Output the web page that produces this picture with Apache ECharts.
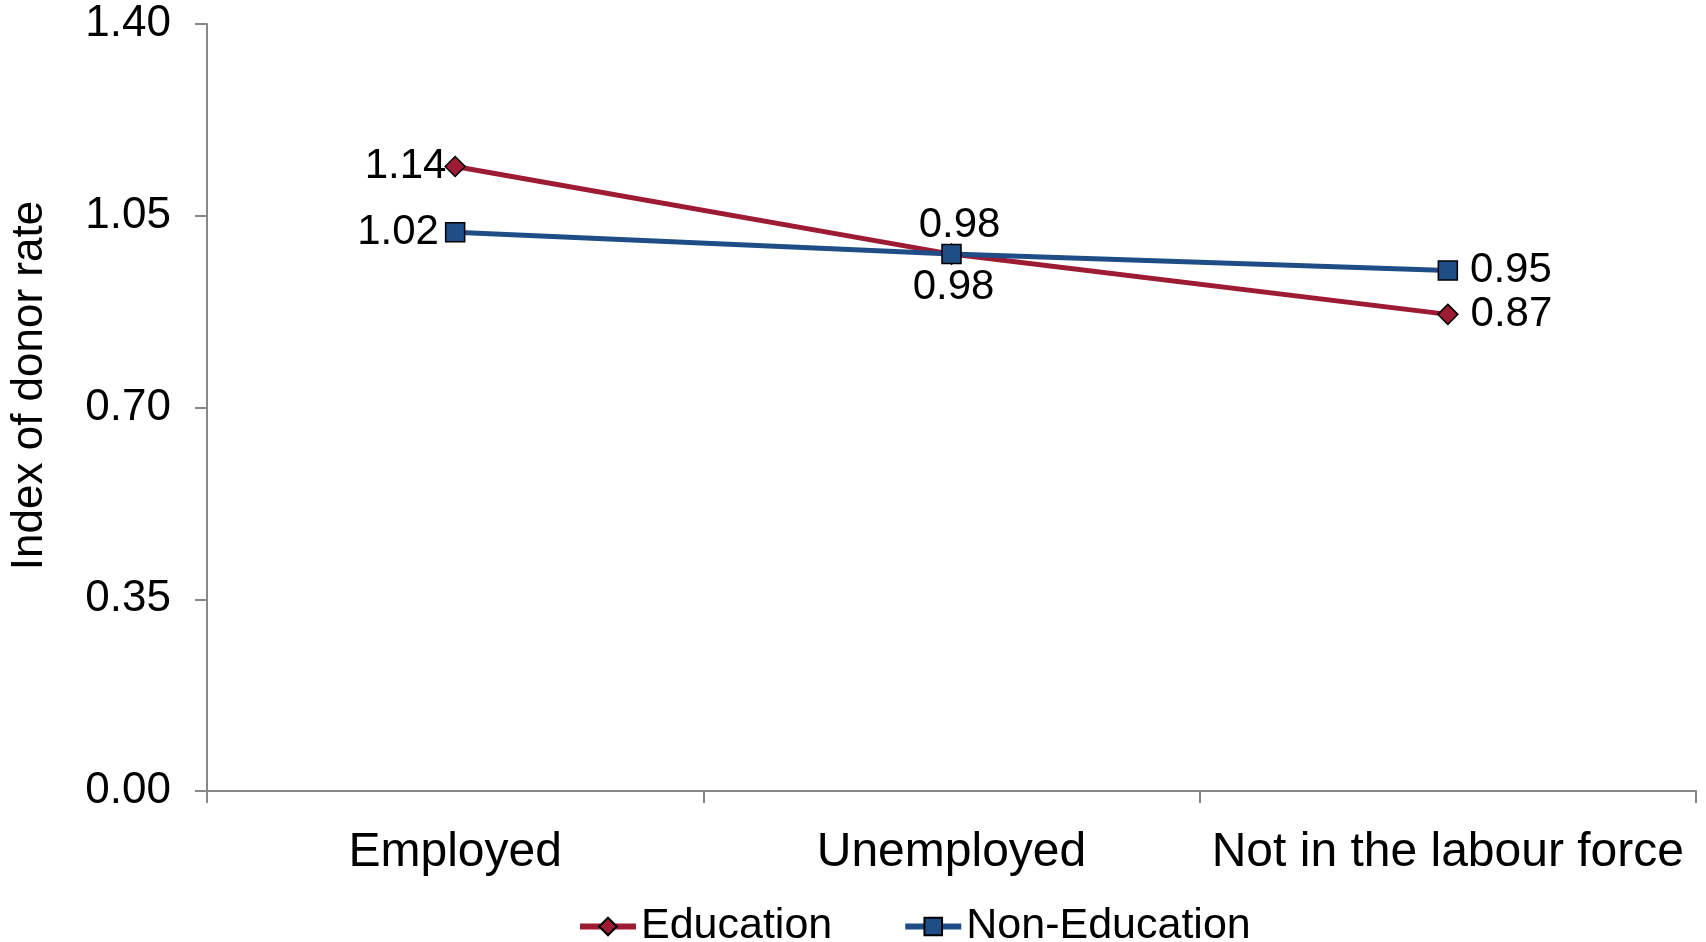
<!DOCTYPE html>
<html><head><meta charset="utf-8">
<script src="https://cdn.jsdelivr.net/npm/echarts@6/dist/echarts.min.js"></script>
<style>html,body{margin:0;padding:0;background:#fff}#c{width:1706px;height:942px}</style>
</head><body><div id="c"></div>
<script>
var categories = ['Employed', 'Unemployed', 'Not in the labour force'];
var educationValues = [1.14, 0.98, 0.87];
var nonEducationValues = [1.02, 0.98, 0.95];
var yTicks = [0, 0.35, 0.70, 1.05, 1.40];
var yAxisName = 'Index of donor rate';
var seriesNames = ['Education', 'Non-Education'];

var eduLabelPos = ['left', 'bottom', 'right'];
var nonLabelPos = ['left', 'top', 'right'];
var eduDist = { left: -2, right: 12, top: -3, bottom: 2 };
var nonDist = { left: 6, right: 12, top: -3, bottom: 2 };
var posOffset = { left: [0, 0], right: [0, 0], top: [8, 0], bottom: [2, 0] };
var FONT = '"Liberation Sans", Arial, sans-serif';

function mk(vals, pos, dist) {
  return vals.map(function (v, i) {
    return { value: v, label: { position: pos[i], distance: dist[pos[i]], offset: posOffset[pos[i]] } };
  });
}

var chart = echarts.init(document.getElementById('c'));
chart.setOption({
  animation: false,
  textStyle: { fontFamily: FONT },
  grid: { left: 207, right: 10, top: 24, bottom: 151, containLabel: false },
  legend: {
    left: 572, top: 900,
    itemWidth: 56, itemHeight: 22, itemGap: 70,
    lineStyle: { width: 6 },
    textStyle: { fontSize: 43, color: '#000', fontFamily: FONT, padding: [4, 0, 0, 0] },
    data: seriesNames
  },
  xAxis: {
    type: 'category', data: categories, boundaryGap: true,
    axisLine: { lineStyle: { color: '#888', width: 2 } },
    axisTick: { show: true, length: 12, interval: 0, lineStyle: { color: '#888', width: 2 } },
    axisLabel: { fontSize: 48, color: '#000', margin: 38, fontFamily: FONT, interval: 0 }
  },
  yAxis: {
    type: 'value', min: 0, max: 1.4, interval: 0.35,
    name: yAxisName, nameLocation: 'middle', nameGap: 155, nameRotate: 90,
    nameTextStyle: { fontSize: 44, color: '#000', fontFamily: FONT, padding: [0, 0, 0, 44] },
    axisLine: { show: true, lineStyle: { color: '#888', width: 2 } },
    axisTick: { show: true, length: 12, lineStyle: { color: '#888', width: 2 } },
    splitLine: { show: false },
    axisLabel: { fontSize: 44, color: '#000', margin: 36, fontFamily: FONT,
      formatter: function (v) { return v.toFixed(2); } }
  },
  series: [
    {
      name: seriesNames[0], type: 'line', data: mk(educationValues, eduLabelPos, eduDist),
      symbol: 'diamond', symbolSize: 20, z: 3,
      lineStyle: { color: '#9E1B34', width: 5 },
      itemStyle: { color: '#9E1B34', borderColor: '#000', borderWidth: 1.5 },
      label: { show: true, fontSize: 42, color: '#000', fontFamily: FONT,
        formatter: function (p) { return p.value.toFixed(2); } }
    },
    {
      name: seriesNames[1], type: 'line', data: mk(nonEducationValues, nonLabelPos, nonDist),
      symbol: 'rect', symbolSize: 19, z: 4,
      lineStyle: { color: '#1F4E87', width: 5 },
      itemStyle: { color: '#1F4E87', borderColor: '#000', borderWidth: 1.5 },
      label: { show: true, fontSize: 42, color: '#000', fontFamily: FONT,
        formatter: function (p) { return p.value.toFixed(2); } }
    }
  ]
});
</script></body></html>
